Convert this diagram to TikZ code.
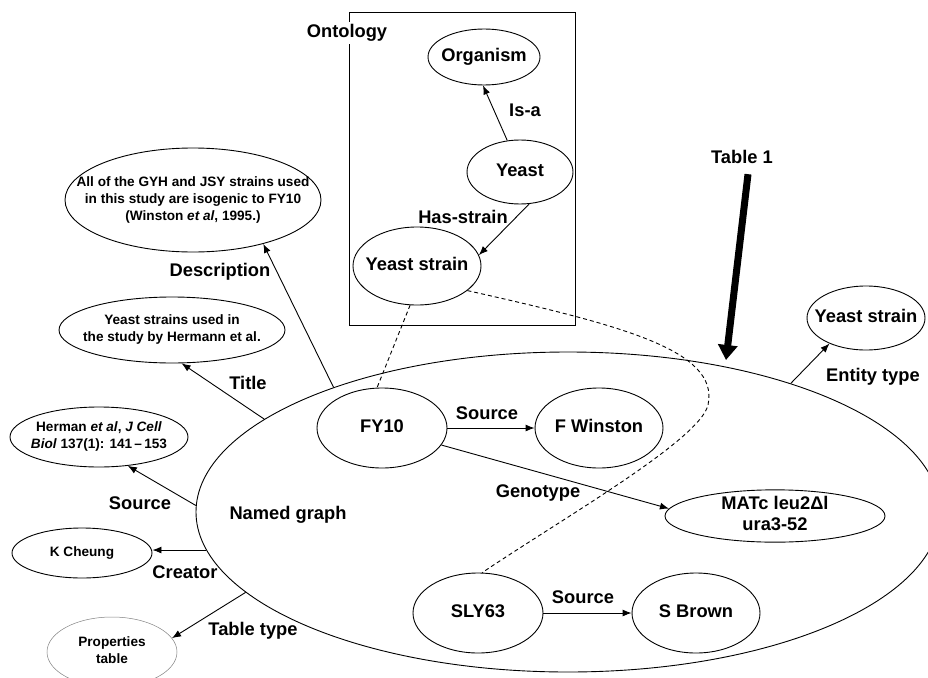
\documentclass[tikz,border=0pt]{standalone}
\usepackage{fontspec}
\setmainfont{Liberation Sans}
\usetikzlibrary{
    arrows.meta,
    shapes.geometric
}
% text inside an ellipse, taking no width of its own
\newcommand{\etext}[2][c]{\makebox[0pt]{\begin{tabular}{@{}#1@{}}#2\end{tabular}}}

\begin{document}
\begin{tikzpicture} [
    x=1pt, y=-1pt,
    line width=0.9pt,
    big/.style = {font=\fontsize{18.3}{21}\selectfont\bfseries},
    small/.style = {font=\fontsize{13.6}{17}\selectfont\bfseries},
    ent/.style = {draw, ellipse, inner sep=0pt, big},
    lbl/.style = {inner sep=0pt, big},
    rel/.style = {-{Latex[length=9pt, width=7pt]}},
    link/.style = {dash pattern=on 4pt off 3pt}
]
    \useasboundingbox (0,0) rectangle (928,677);
    \clip (0,0) rectangle (928,677);

    % ontology
    \draw (349,12) rectangle (575,325);
    \node[lbl, fill=white, inner sep=2pt] (onto) at (347,33) {Ontology};

    \node[ent, minimum width=112, minimum height=56] (org) at (484,57) {\etext{Organism}};
    \node[ent, minimum width=106, minimum height=64] (yeast) at (520,172) {\etext{Yeast}};
    \node[ent, minimum width=128, minimum height=78] (ysont) at (417,266) {\etext{Yeast strain}};

    \draw[rel] (yeast.112) -- (org.-92);
    \draw[rel] (yeast.-74) -- (ysont.10);
    \node[lbl] (lIsa) at (525,110) {Is-a};
    \node[lbl] (lHas) at (463,217) {Has-strain};

    % named graph
    \node[draw, ellipse, minimum width=744, minimum height=320] (graph) at (568,512) {};
    \node[lbl] (gname) at (288,515) {Named graph};

    \node[ent, minimum width=130, minimum height=80] (fy10) at (382,428) {\etext{FY10}};
    \node[ent, minimum width=128, minimum height=80] (fwin) at (599,428) {\etext{F Winston}};
    \node[ent, minimum width=220, minimum height=52, inner ysep=-2.5pt] (mat) at (775,516)
        {\etext{MATc leu2Δl\\ura3-52}};
    \node[ent, minimum width=130, minimum height=80] (sly) at (478,613) {\etext{SLY63}};
    \node[ent, minimum width=128, minimum height=80] (sbr) at (696,613) {\etext{S Brown}};

    \draw[rel] (fy10.east) -- (fwin.west);
    \draw[rel] (fy10.-16) -- (mat.176);
    \draw[rel] (sly.east) -- (sbr.west);
    \node[lbl] (lSrcA) at (487,413) {Source};
    \node[lbl] (lGeno) at (538,493) {Genotype};
    \node[lbl] (lSrcB) at (583,597) {Source};

    \draw[link] (ysont.-100) -- (fy10.97);
    \draw[link] (ysont.-26) .. controls (620,325) and (720,350) .. (708,405)
        .. controls (700,440) and (560,520) .. (sly.84);

    % properties of the graph
    \node[ent, small, minimum width=256, minimum height=104] (desc) at (193,200)
        {\etext{All of the GYH and JSY strains used\\in this study are isogenic to FY10\\(Winston \textit{et al}, 1995.)}};
    \node[ent, small, minimum width=226, minimum height=66] (title) at (172,330)
        {\etext{Yeast strains used in\\the study by Hermann et al.}};
    \node[ent, small, minimum width=178, minimum height=60] (herman) at (99,437)
        {\etext{Herman \textit{et al}, \textit{J Cell}\\\textit{Biol} 137(1): 141\,--\,153}};
    \node[ent, small, minimum width=140, minimum height=50] (cheung) at (82,553) {\etext{K Cheung}};
    \node[ent, small, draw=gray, line width=0.5pt, minimum width=130, minimum height=70] (props) at (112,652)
        {\etext{Properties\\table}};
    \node[ent, minimum width=118, minimum height=64] (ystype) at (866,318) {\etext{Yeast strain}};

    \draw[rel] (graph.152) -- (desc.-32);
    \draw[rel] (graph.163) -- (title.-74);
    \draw[rel] (graph.179) -- (herman.-45);
    \draw[rel] (graph.186) -- (graph.186 -| cheung.east);
    \draw[rel] (graph.194) -- (props.13);
    \draw[rel] (graph.30) -- (ystype.215);

    \node[lbl] (lDesc) at (220,272) {Description};
    \node[lbl] (lTitle) at (248,383) {Title};
    \node[lbl] (lSrc) at (140,503) {Source};
    \node[lbl] (lCreat) at (185,572) {Creator};
    \node[lbl] (lType) at (253,631) {Table type};
    \node[lbl] (lEnt) at (873,377) {Entity type};

    % table 1
    \node[lbl] (tab) at (742,157) {Table 1};
    \coordinate (tabtip) at (726,360);
    \draw[line width=7pt, -{Triangle[length=15pt, width=19pt]}] (tab.south) ++(6,10) -- (tabtip);
\end{tikzpicture}
\end{document}
